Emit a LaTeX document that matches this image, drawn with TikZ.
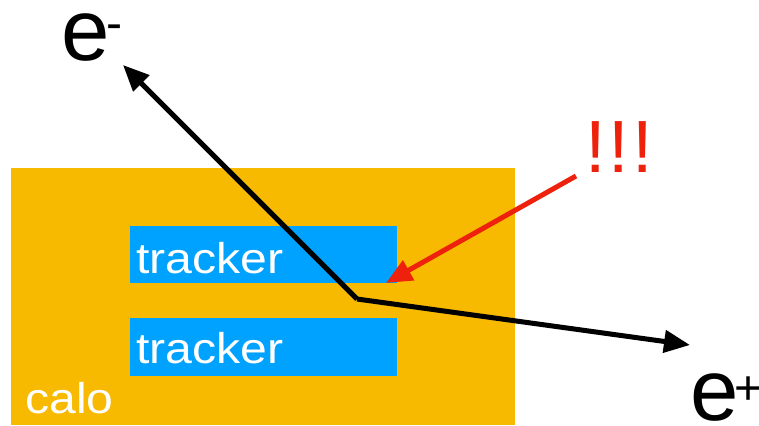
\documentclass[tikz,border=0pt]{standalone}
\usepackage{fontspec}
\setmainfont{Liberation Sans}
\newfontfamily\widesans[FakeStretch=1.12]{Liberation Sans}
\usetikzlibrary{arrows.meta}
\definecolor{caloorange}{HTML}{F7BA00}
\definecolor{trackblue}{HTML}{00A2FF}
\definecolor{alertred}{HTML}{EE220C}
% raised charge sign after a particle symbol
\newcommand{\chargesign}[3]{\kern#1\raisebox{#2}{\fontsize{48}{48}\selectfont #3}}
\begin{document}
\begin{tikzpicture}[x=1pt,y=-1pt,
  block/.style={draw=none,inner sep=0,anchor=north west},
  label/.style={inner sep=0,anchor=base west,text=white,font=\widesans\fontsize{43}{43}\selectfont},
  particle/.style={inner sep=0,anchor=base west,text height=48pt,text depth=0pt,font=\fontsize{87}{87}\selectfont},
  track/.style={line width=5pt,-{Triangle[length=26pt,width=22pt]}},
  pointer/.style={draw=alertred,line width=5pt,-{Triangle[length=26pt,width=22pt]}}]
\useasboundingbox (0,0) rectangle (759,425);
% calorimeter and tracker layers
\node[block,fill=caloorange,minimum width=504pt,minimum height=257pt] (calo) at (11,168) {};
\node[block,fill=trackblue,minimum width=267pt,minimum height=57pt] (trk1) at (130,226) {};
\node[block,fill=trackblue,minimum width=267pt,minimum height=58pt] (trk2) at (130,318) {};
\node[label] (t1) at (136,273) {tracker};
\node[label] (t2) at (136,363) {tracker};
\node[label] (cl) at (25,413) {calo};
% particle labels
\node[particle] (em) at (61,61) {e\chargesign{-3.4pt}{21pt}{-}};
\node[particle] (ep) at (690,420) {e\chargesign{-4.4pt}{16pt}{+}};
\node[inner sep=0,anchor=base west,text=alertred,font=\fontsize{74}{74}\selectfont] (alarm) at (585,172) {!\kern3pt!\kern3pt!};
% tracks
\coordinate (vtx) at (357,299);
\coordinate (emtip) at (123,65);
\coordinate (eptip) at (690,345);
\coordinate (ptail) at (576,176);
\coordinate (ptip) at (386,283);
\draw[track] (vtx) -- (emtip);
\draw[track] (vtx) -- (eptip);
\draw[pointer] (ptail) -- (ptip);
\end{tikzpicture}
\end{document}
